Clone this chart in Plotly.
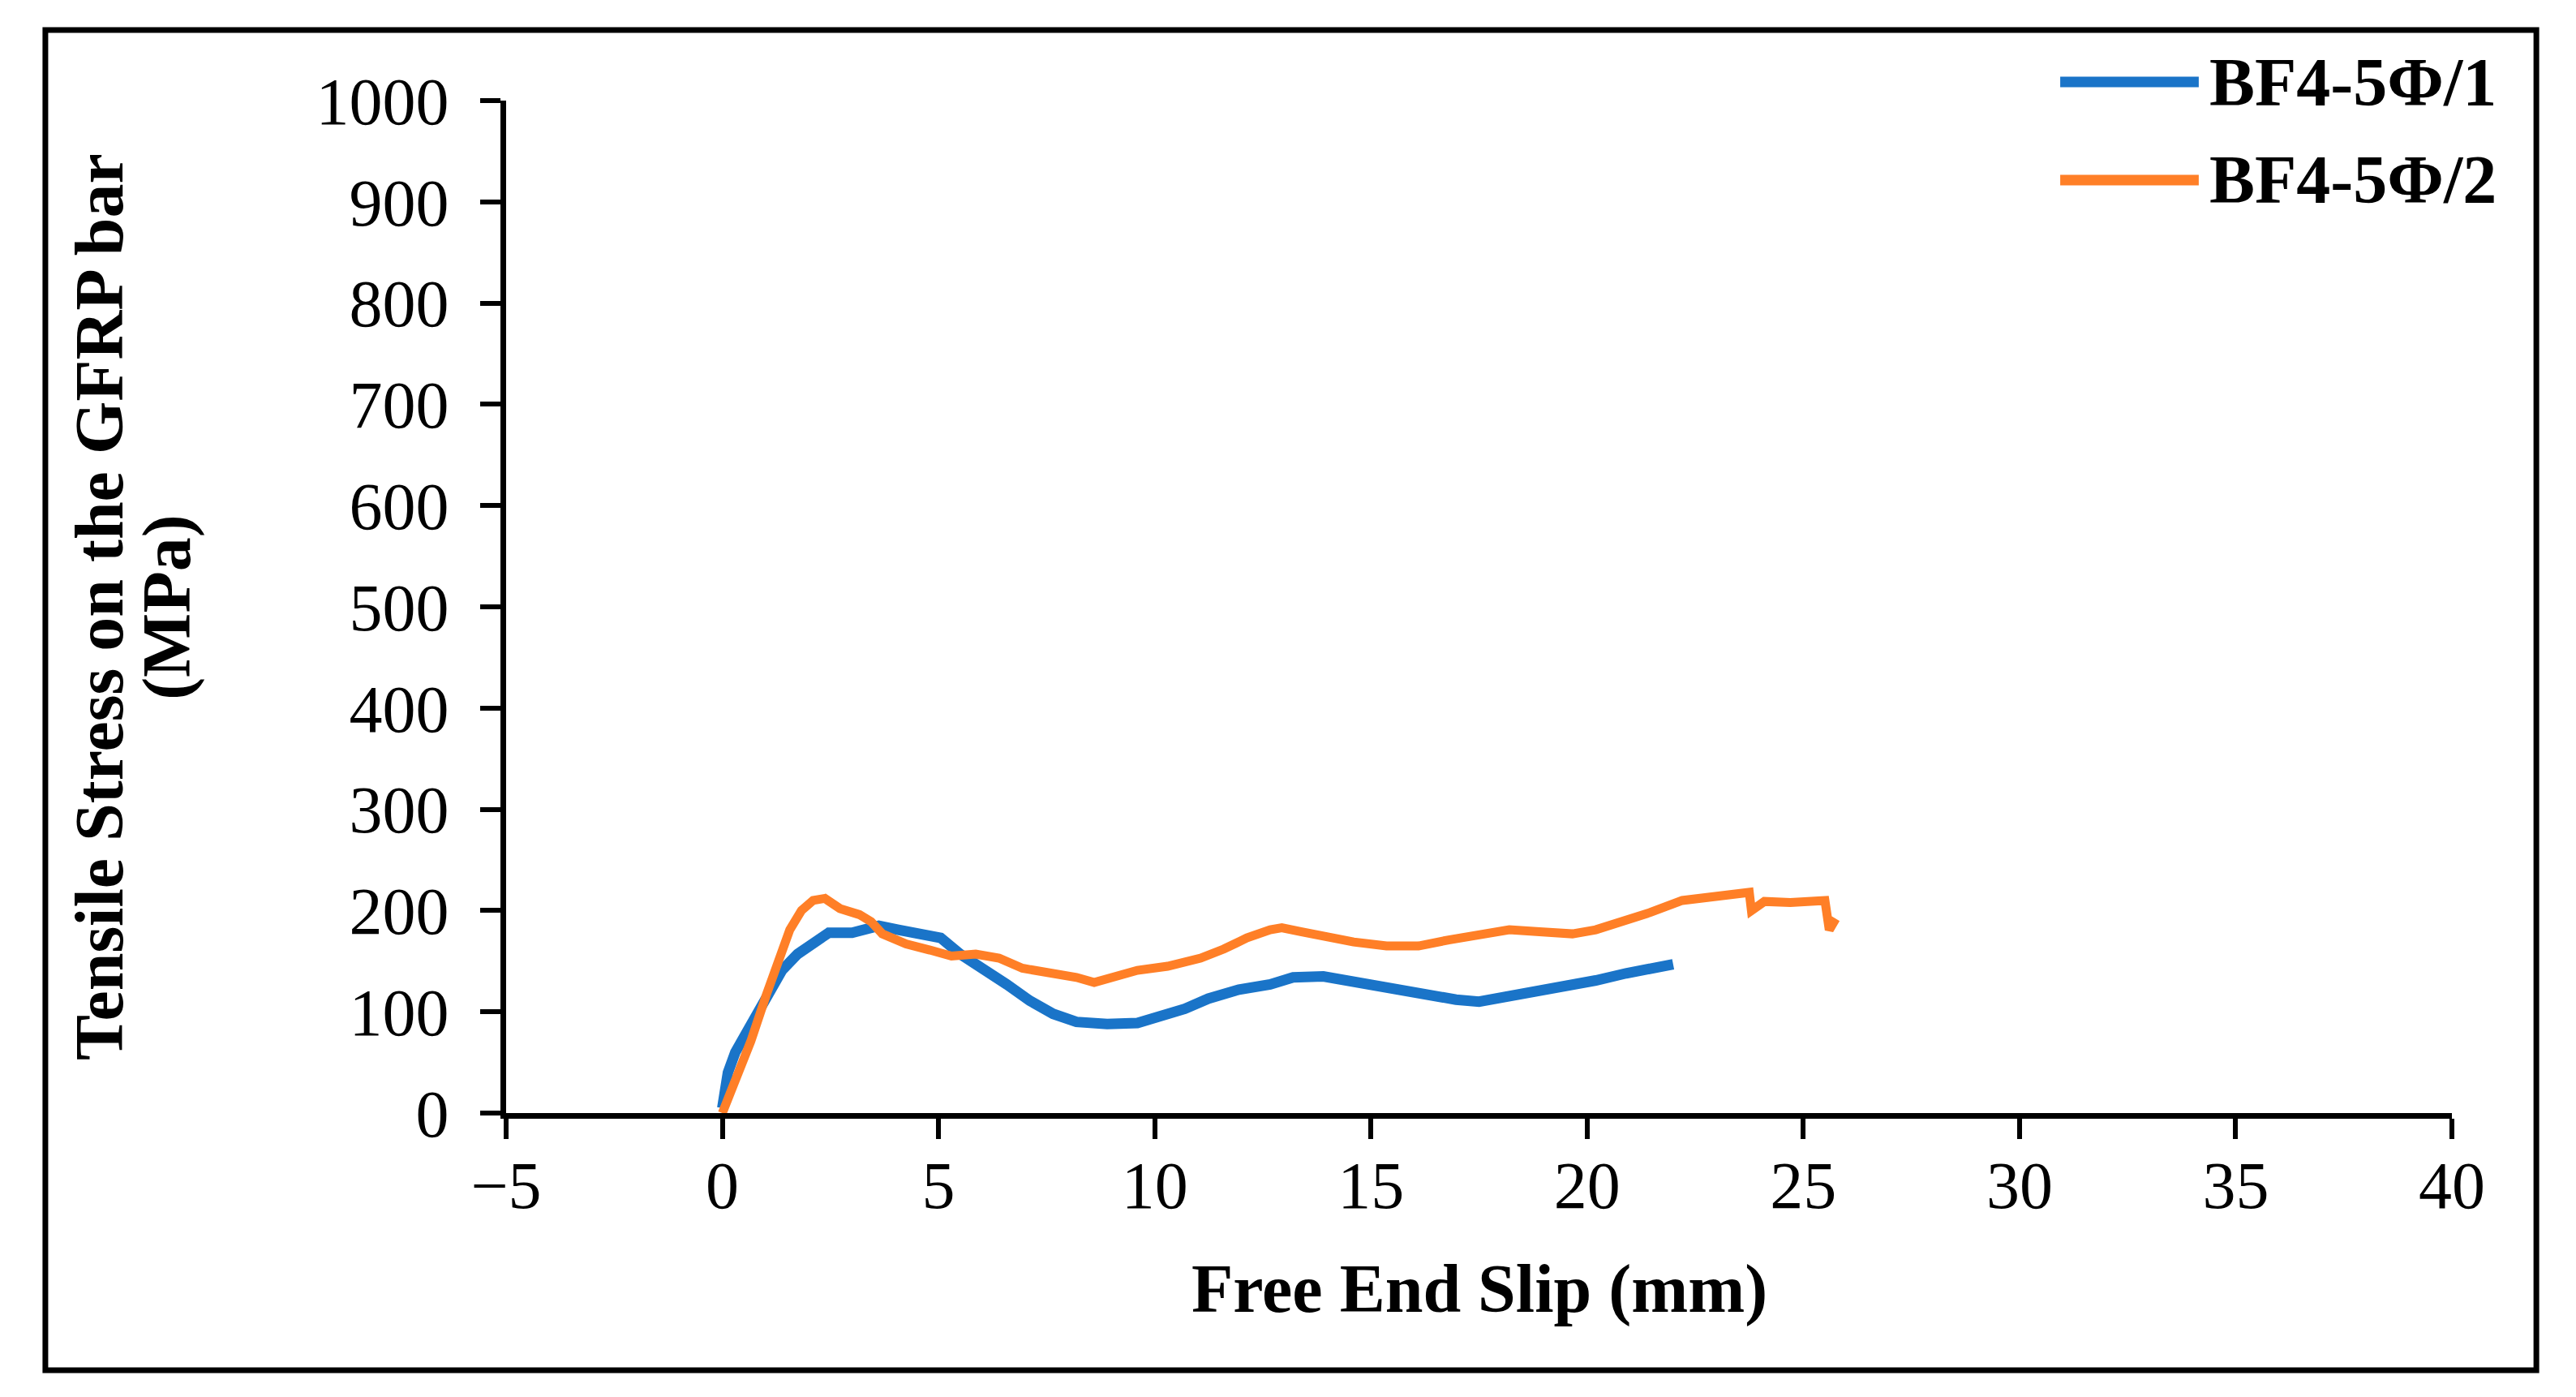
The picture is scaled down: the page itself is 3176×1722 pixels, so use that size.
import plotly.graph_objects as go

# ---- data ----
slip_1 = [0, 0.05, 0.13, 0.3, 0.66, 1.02, 1.38, 1.74, 2.1, 2.46, 3.0, 3.35, 3.62, 4.07, 4.6,
          5.05, 5.5, 6.04, 6.58, 7.11, 7.65, 8.19, 8.9, 9.6, 10.16, 10.7, 11.24, 11.95, 12.67,
          13.2, 13.9, 14.46, 15.0, 15.7, 16.4, 16.97, 17.5, 18.05, 18.76, 19.48, 20.2, 20.9,
          21.6, 21.99]
stress_1 = [5, 24, 40, 60, 86, 112, 141, 157, 167, 178, 178, 183, 185, 181, 178,
            173, 157, 143, 127, 111, 98, 90, 88, 89, 95, 103, 113, 122, 127,
            134, 135, 131, 126, 121, 115, 112, 110, 114, 119, 125, 131, 138,
            143, 147]

slip_2 = [0, 0.3, 0.66, 1.02, 1.29, 1.56, 1.83, 2.1, 2.37, 2.72, 3.17, 3.44, 3.7, 4.25, 4.8,
          5.3, 5.86, 6.4, 6.94, 7.65, 8.19, 8.6, 9.1, 9.6, 10.3, 11.06, 11.6, 12.13, 12.67,
          12.94, 13.4, 13.9, 14.6, 15.36, 16.1, 16.8, 17.5, 18.2, 18.9, 19.66, 20.2, 20.7,
          21.45, 22.2, 22.9, 23.6, 23.75, 23.8, 24.1, 24.7, 25.5, 25.6, 25.75]
stress_2 = [0, 31, 71, 117, 151, 181, 200, 210, 212, 202, 196, 189, 177, 167, 161,
            155, 157, 153, 143, 139, 134, 129, 135, 141, 145, 153, 162, 173, 181,
            183, 179, 174, 169, 165, 165, 171, 175, 181, 179, 177, 181, 187,
            198, 210, 213, 217, 218, 200, 209, 208, 210, 181, 192]

series_names = ["BF4-5Φ/1", "BF4-5Φ/2"]
series_colors = ["#1a74c8", "#ff7f27"]

x_ticks = [-5, 0, 5, 10, 15, 20, 25, 30, 35, 40]
y_ticks = [0, 100, 200, 300, 400, 500, 600, 700, 800, 900, 1000]

x_title = "Free End Slip (mm)"
y_title_1 = "Tensile Stress on the GFRP bar"
y_title_2 = "(MPa)"

FONT = "Liberation Serif, Times New Roman, serif"

fig = go.Figure()
fig.add_trace(go.Scatter(x=slip_1, y=stress_1, mode="lines", name=series_names[0],
                         line=dict(color=series_colors[0], width=13), showlegend=False))
fig.add_trace(go.Scatter(x=slip_2, y=stress_2, mode="lines", name=series_names[1],
                         line=dict(color=series_colors[1], width=11), showlegend=False))

axis_common = dict(
    showgrid=False, zeroline=False, showline=True, linecolor="black", linewidth=7,
    ticks="outside", ticklen=25, tickwidth=6, tickcolor="black",
    tickfont=dict(family=FONT, size=82, color="black"),
)
fig.update_xaxes(range=[-5, 40], tickvals=x_ticks, ticklabelstandoff=-13, **axis_common)
fig.update_yaxes(range=[0, 1000], tickvals=y_ticks, ticklabelstandoff=22, **axis_common)

ann = []
# axis titles
ann.append(dict(text="<b>%s</b>" % x_title, x=0.5, y=-0.1739, xref="paper", yref="paper",
                xanchor="center", yanchor="middle", showarrow=False,
                font=dict(family=FONT, size=84, color="black")))
ann.append(dict(text="<b>%s</b>" % y_title_1, x=-0.2093, y=0.5, xref="paper", yref="paper",
                xanchor="center", yanchor="middle", showarrow=False, textangle=-90,
                font=dict(family=FONT, size=84, color="black")))
ann.append(dict(text="<b>%s</b>" % y_title_2, x=-0.1743, y=0.5, xref="paper", yref="paper",
                xanchor="center", yanchor="middle", showarrow=False, textangle=-90,
                font=dict(family=FONT, size=84, color="black")))

shapes = []
# legend (manual, to match long line samples)
leg_y = [1.0184, 0.9215]
for name, color, yy in zip(series_names, series_colors, leg_y):
    shapes.append(dict(type="line", xref="paper", yref="paper", x0=0.7987, x1=0.8699,
                       y0=yy, y1=yy, line=dict(color=color, width=13)))
    ann.append(dict(text="<b>%s</b>" % name, x=0.8745, y=yy, xref="paper", yref="paper",
                    xanchor="left", yanchor="middle", showarrow=False,
                    font=dict(family=FONT, size=84, color="black")))
# outer frame
shapes.append(dict(type="rect", xref="paper", yref="paper", x0=-0.2368, x1=1.0434,
                   y0=-0.2540, y1=1.0697, line=dict(color="black", width=7),
                   fillcolor="rgba(0,0,0,0)", layer="below"))

fig.update_layout(
    width=3160, height=1706,
    margin=dict(l=616, r=145, t=116, b=342),
    paper_bgcolor="white", plot_bgcolor="white",
    annotations=ann, shapes=shapes, showlegend=False,
)

fig.write_html("out.html")
